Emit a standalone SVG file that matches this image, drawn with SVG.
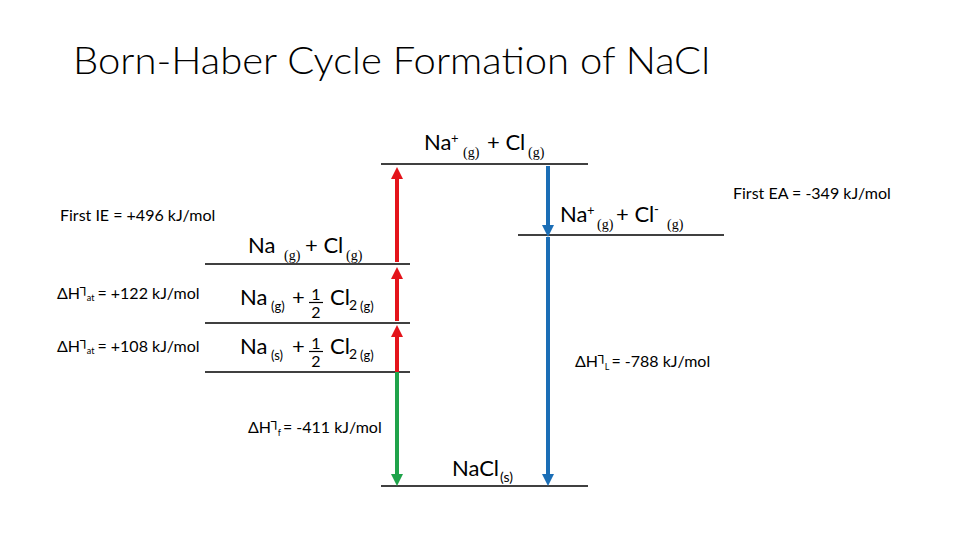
<svg xmlns="http://www.w3.org/2000/svg" width="960" height="540" viewBox="0 0 960 540">
<style>
text{font-family:Lato,"Open Sans","DejaVu Sans",sans-serif;fill:#000}
.big{font-size:22px}
.sub{font-size:13px}
.ser{font-size:14px;font-family:"Liberation Serif","DejaVu Serif",serif}
.lab{font-size:16px}
.sym{font-size:12px;font-family:"DejaVu Sans",sans-serif}
.tiny{font-size:9px}
.lvl{stroke:#000;stroke-width:1.3}
.red{stroke:#e4141b;stroke-width:4;fill:none}
.grn{stroke:#1fa34a;stroke-width:4;fill:none}
.blu{stroke:#1b6eb6;stroke-width:4;fill:none}
</style>
<defs>
<marker id="ar" viewBox="0 0 10 10" refX="2.5" refY="5" markerWidth="12" markerHeight="12" markerUnits="userSpaceOnUse" orient="auto"><path d="M0,0 L10,5 L0,10 z" fill="#e4141b"/></marker>
<marker id="ag" viewBox="0 0 10 10" refX="2.5" refY="5" markerWidth="12" markerHeight="12" markerUnits="userSpaceOnUse" orient="auto"><path d="M0,0 L10,5 L0,10 z" fill="#1fa34a"/></marker>
<marker id="ab" viewBox="0 0 10 10" refX="2.5" refY="5" markerWidth="12" markerHeight="12" markerUnits="userSpaceOnUse" orient="auto"><path d="M0,0 L10,5 L0,10 z" fill="#1b6eb6"/></marker>
</defs>
<rect width="960" height="540" fill="#fff"/>
<g id="title"><text x="73" y="74" font-size="38" font-weight="300" textLength="637" lengthAdjust="spacingAndGlyphs">Born-Haber Cycle Formation of NaCl</text></g>

<g id="level-ions-atoms">
<line class="lvl" x1="381" y1="164" x2="588" y2="164"/>
<text class="big" x="424" y="150">Na</text><text class="sub" x="451" y="143">+</text><text class="ser" x="463" y="157">(g)</text><text class="big" x="487" y="150">+ Cl</text><text class="ser" x="528" y="157">(g)</text>
</g>
<g id="level-ions">
<line class="lvl" x1="518" y1="235" x2="724" y2="235"/>
<text class="big" x="560" y="222">Na</text><text class="sub" x="587" y="215">+</text><text class="ser" x="597" y="229">(g)</text><text class="big" x="616" y="222">+ Cl</text><text class="sub" x="654" y="214">-</text><text class="ser" x="667" y="229">(g)</text>
</g>
<g id="level-atoms">
<line class="lvl" x1="205" y1="264" x2="410" y2="264"/>
<text class="big" x="248" y="253">Na</text><text class="ser" x="284" y="260">(g)</text><text class="big" x="305" y="253">+ Cl</text><text class="ser" x="346" y="260">(g)</text>
</g>
<g id="level-na-gas">
<line class="lvl" x1="205" y1="323" x2="410" y2="323"/>
<text class="big" x="240" y="305">Na</text><text class="sub" x="271" y="311">(g)</text><text class="big" x="292" y="305">+</text>
<text x="316" y="300" font-size="16" text-anchor="middle">1</text><line x1="309" y1="302.5" x2="323" y2="302.5" stroke="#000" stroke-width="1.2"/><text x="316" y="318" font-size="16" text-anchor="middle">2</text>
<text class="big" x="330" y="305">Cl</text><text x="349" y="310" font-size="14">2</text><text class="sub" x="360" y="311">(g)</text>
</g>
<g id="level-elements">
<line class="lvl" x1="205" y1="372" x2="410" y2="372"/>
<text class="big" x="240" y="354">Na</text><text class="sub" x="271" y="360">(s)</text><text class="big" x="292" y="354">+</text>
<text x="316" y="349" font-size="16" text-anchor="middle">1</text><line x1="309" y1="351.5" x2="323" y2="351.5" stroke="#000" stroke-width="1.2"/><text x="316" y="367" font-size="16" text-anchor="middle">2</text>
<text class="big" x="330" y="354">Cl</text><text x="349" y="359" font-size="14">2</text><text class="sub" x="360" y="360">(g)</text>
</g>
<g id="level-nacl">
<line class="lvl" x1="381" y1="486" x2="588" y2="486"/>
<text class="big" x="452" y="476">NaCl</text><text x="500" y="482" font-size="14">(s)</text>
</g>

<g id="label-ie"><text class="lab" x="60" y="221">First IE = +496 kJ/mol</text></g>
<g id="label-ea"><text class="lab" x="733" y="199">First EA = -349 kJ/mol</text></g>
<g id="label-at-cl"><text class="lab" x="57" y="299">ΔH<tspan class="sym" dy="-3">⅂</tspan><tspan class="tiny" dy="5">at</tspan><tspan dx="3" dy="-2">= +122 kJ/mol</tspan></text></g>
<g id="label-at-na"><text class="lab" x="57" y="352">ΔH<tspan class="sym" dy="-3">⅂</tspan><tspan class="tiny" dy="5">at</tspan><tspan dx="3" dy="-2">= +108 kJ/mol</tspan></text></g>
<g id="label-lattice"><text class="lab" x="575" y="367">ΔH<tspan class="sym" dy="-3">⅂</tspan><tspan class="tiny" dy="6">L</tspan><tspan dx="2" dy="-3">= -788 kJ/mol</tspan></text></g>
<g id="label-formation"><text class="lab" x="248" y="433">ΔH<tspan class="sym" dy="-3">⅂</tspan><tspan class="tiny" dy="6">f</tspan><tspan dx="2" dy="-3">= -411 kJ/mol</tspan></text></g>

<g id="connectors">
<path class="red" d="M397,262 L397,176" marker-end="url(#ar)"/>
<path class="red" d="M397,321 L397,276" marker-end="url(#ar)"/>
<path class="red" d="M397,372 L397,334" marker-end="url(#ar)"/>
<path class="grn" d="M397,372 L397,477" marker-end="url(#ag)"/>
<path class="blu" d="M548,166 L548,228" marker-end="url(#ab)"/>
<path class="blu" d="M548,237 L548,477" marker-end="url(#ab)"/>
</g>
</svg>
